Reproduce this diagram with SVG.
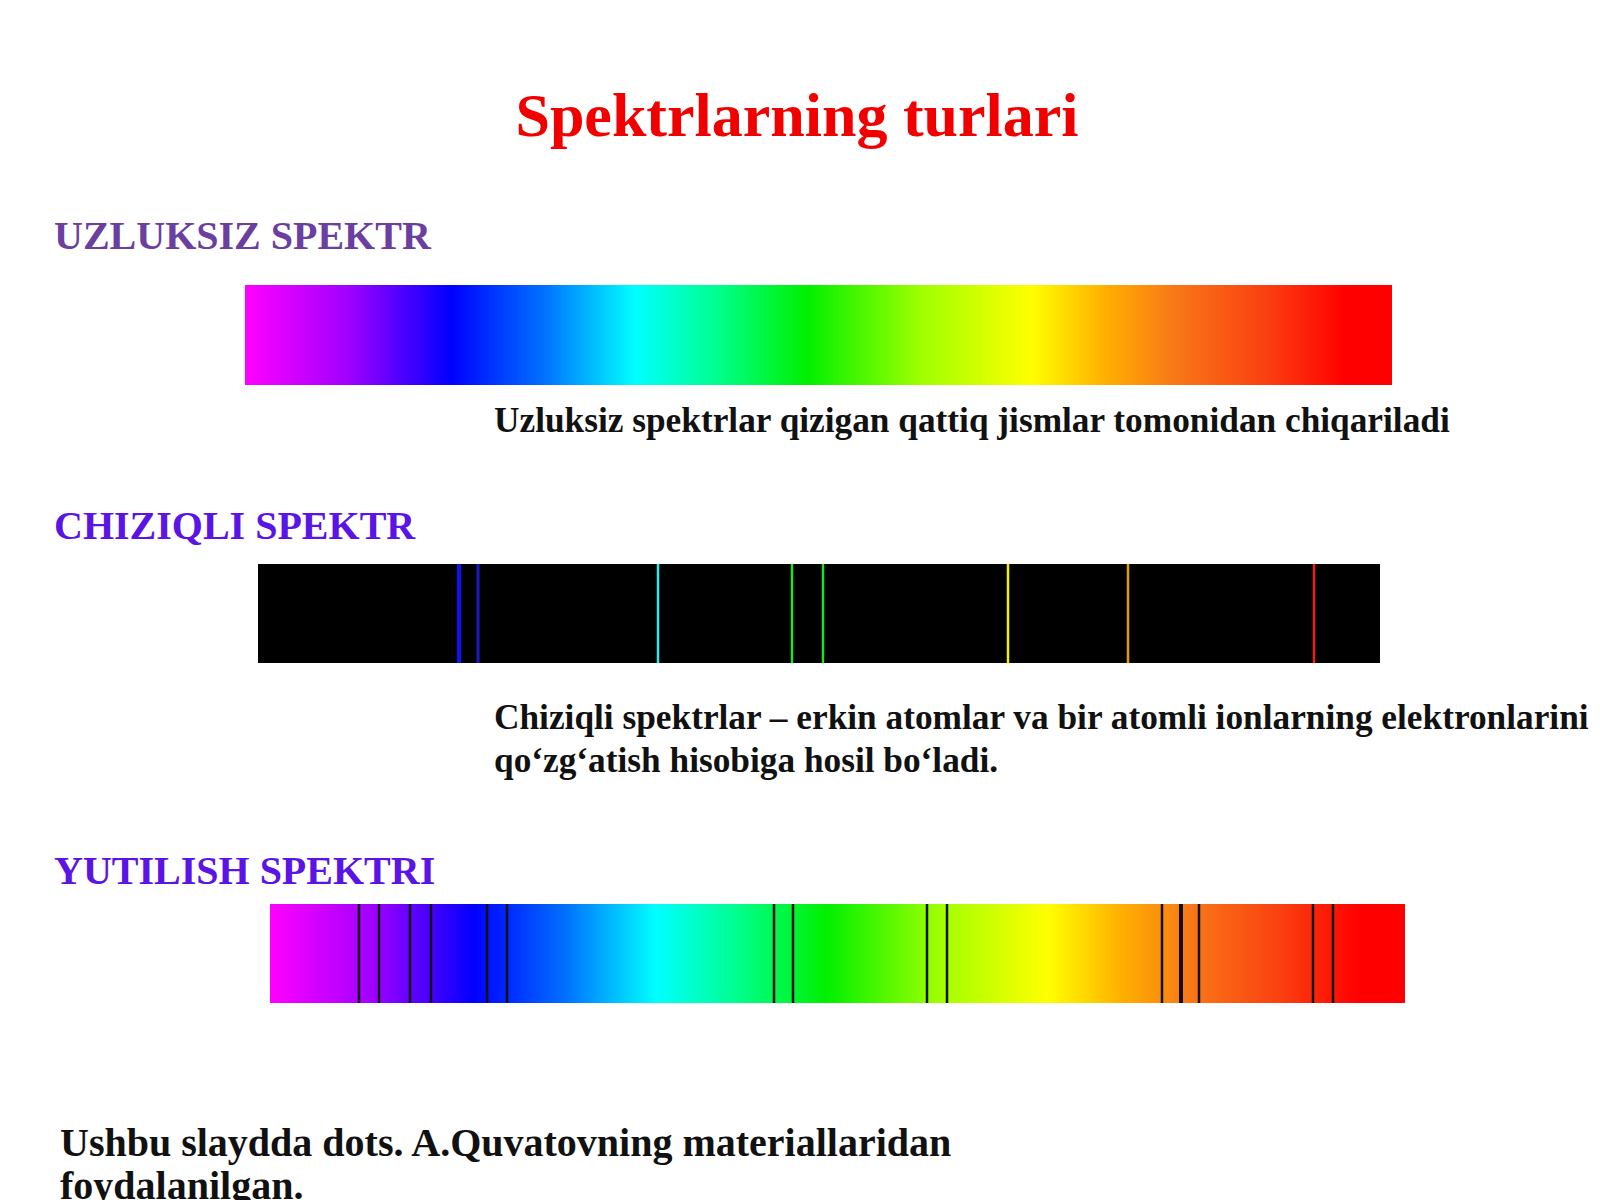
<svg xmlns="http://www.w3.org/2000/svg" width="1600" height="1200" viewBox="0 0 1600 1200">
<style>
text{font-family:"Liberation Serif","Times New Roman",serif;font-weight:bold}
.title{font-size:62px;fill:#f20000}
.h1{font-size:40px;fill:#6b3fa0}
.h2{font-size:40px;fill:#5a14e6}
.body{font-size:35.3px;fill:#111}
.foot{font-size:40px;fill:#111}
.em{stroke-width:2.5}
.ab{stroke:#111;stroke-width:2.5}
</style>
<defs>
<linearGradient id="rainbow" x1="0" y1="0" x2="1" y2="0">
<stop offset="0" stop-color="#ff00ff"/>
<stop offset="0.09" stop-color="#a000ff"/>
<stop offset="0.18" stop-color="#0000ff"/>
<stop offset="0.26" stop-color="#0070ff"/>
<stop offset="0.34" stop-color="#00ffff"/>
<stop offset="0.41" stop-color="#00ff90"/>
<stop offset="0.49" stop-color="#00f000"/>
<stop offset="0.59" stop-color="#a0ff00"/>
<stop offset="0.685" stop-color="#ffff00"/>
<stop offset="0.75" stop-color="#ffb000"/>
<stop offset="0.81" stop-color="#f87818"/>
<stop offset="0.89" stop-color="#fa4010"/>
<stop offset="0.96" stop-color="#ff0000"/>
<stop offset="1" stop-color="#ff0000"/>
</linearGradient>
</defs>
<rect width="1600" height="1200" fill="#ffffff"/>
<text class="title" x="797" y="136" text-anchor="middle">Spektrlarning turlari</text>

<g id="uzluksiz">
<text class="h1" x="54" y="249">UZLUKSIZ SPEKTR</text>
<rect x="245" y="285" width="1147" height="100" fill="url(#rainbow)"/>
<text class="body" x="494" y="432">Uzluksiz spektrlar qizigan qattiq jismlar tomonidan chiqariladi</text>
</g>

<g id="chiziqli">
<text class="h2" x="54" y="539">CHIZIQLI SPEKTR</text>
<rect x="258" y="564" width="1122" height="99" fill="#000"/>
<g class="em">
<line x1="459" y1="564" x2="459" y2="663" stroke="#1010ff" stroke-width="4"/>
<line x1="478" y1="564" x2="478" y2="663" stroke="#1a1ac0" stroke-width="3"/>
<line x1="658" y1="564" x2="658" y2="663" stroke="#30e8e8"/>
<line x1="792" y1="564" x2="792" y2="663" stroke="#20e020"/>
<line x1="823" y1="564" x2="823" y2="663" stroke="#20e020"/>
<line x1="1008" y1="564" x2="1008" y2="663" stroke="#f0f000"/>
<line x1="1128" y1="564" x2="1128" y2="663" stroke="#e0a000"/>
<line x1="1314" y1="564" x2="1314" y2="663" stroke="#f02010"/>
</g>
<text class="body" x="494" y="729">Chiziqli spektrlar – erkin atomlar va bir atomli ionlarning elektronlarini</text>
<text class="body" x="494" y="772">qo‘zg‘atish hisobiga hosil bo‘ladi.</text>
</g>

<g id="yutilish">
<text class="h2" x="54" y="884">YUTILISH SPEKTRI</text>
<rect x="270" y="904" width="1135" height="99" fill="url(#rainbow)"/>
<g class="ab">
<line x1="359" y1="904" x2="359" y2="1003"/>
<line x1="379" y1="904" x2="379" y2="1003"/>
<line x1="410" y1="904" x2="410" y2="1003"/>
<line x1="431" y1="904" x2="431" y2="1003"/>
<line x1="487" y1="904" x2="487" y2="1003"/>
<line x1="507" y1="904" x2="507" y2="1003"/>
<line x1="774" y1="904" x2="774" y2="1003"/>
<line x1="793" y1="904" x2="793" y2="1003"/>
<line x1="927" y1="904" x2="927" y2="1003"/>
<line x1="947" y1="904" x2="947" y2="1003"/>
<line x1="1162" y1="904" x2="1162" y2="1003"/>
<line x1="1181" y1="904" x2="1181" y2="1003" stroke-width="4"/>
<line x1="1199" y1="904" x2="1199" y2="1003"/>
<line x1="1313" y1="904" x2="1313" y2="1003"/>
<line x1="1333" y1="904" x2="1333" y2="1003"/>
</g>
</g>

<g id="footer">
<text class="foot" x="60" y="1156">Ushbu slaydda dots. A.Quvatovning materiallaridan</text>
<text class="foot" x="60" y="1199">foydalanilgan.</text>
</g>
</svg>
